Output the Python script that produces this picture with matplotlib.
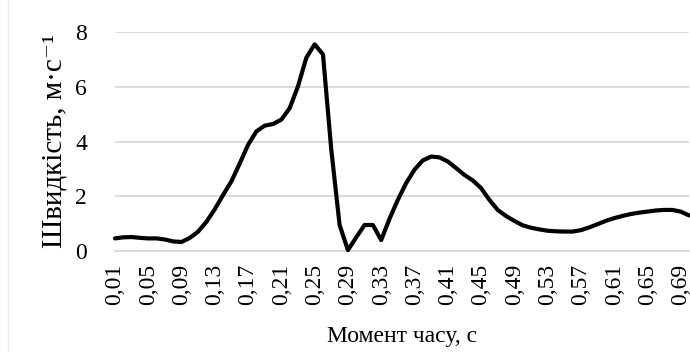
"""Speed vs time moment chart (Excel-like style)."""

import matplotlib
matplotlib.use("Agg")
import matplotlib.pyplot as plt
from matplotlib.lines import Line2D

# time moments 0,01 ... 0,70 s
time_s = [round(0.01 * k, 2) for k in range(1, 71)]

speed = [
    0.46, 0.50, 0.51, 0.48, 0.46, 0.46, 0.42, 0.35, 0.33, 0.48,
    0.71, 1.07, 1.53, 2.05, 2.55, 3.20, 3.88, 4.37, 4.58, 4.64,
    4.80, 5.22, 6.02, 7.06, 7.55, 7.18, 3.70, 0.95, 0.03, 0.50,
    0.95, 0.95, 0.40, 1.18, 1.87, 2.48, 2.97, 3.31, 3.45, 3.42,
    3.27, 3.03, 2.78, 2.58, 2.30, 1.87, 1.50, 1.28, 1.10, 0.94,
    0.85, 0.79, 0.74, 0.72, 0.71, 0.71, 0.76, 0.86, 0.98, 1.10,
    1.20, 1.28, 1.35, 1.40, 1.44, 1.48, 1.50, 1.50, 1.44, 1.30,
]

tick_values = time_s[::4]
tick_labels = [f"{v:.2f}".replace(".", ",") for v in tick_values]
y_ticks = [0, 2, 4, 6, 8]

plt.rcParams["font.family"] = ["Liberation Serif", "DejaVu Serif"]

fig = plt.figure(figsize=(6.9, 3.52), dpi=100)
ax = fig.add_axes([115 / 690, 101 / 352, 574 / 690, 219 / 352])

ax.plot(time_s, speed, color="black", linewidth=3.0, solid_joinstyle="round",
        solid_capstyle="round", clip_on=False, zorder=3)

ax.set_xlim(time_s[0], time_s[-1])
ax.set_ylim(0, 8)
ax.set_yticks(y_ticks)
ax.set_xticks(tick_values)
ax.set_xticklabels(tick_labels, rotation=90)
ax.tick_params(axis="both", length=0, labelsize=17, colors="black")
ax.tick_params(axis="y", pad=20)
ax.tick_params(axis="x", pad=9)

ax.grid(axis="y", color="#d9d9d9", linewidth=1.3)
ax.set_axisbelow(True)
for side in ("top", "right", "left"):
    ax.spines[side].set_visible(False)
ax.spines["bottom"].set_color("#d9d9d9")
ax.spines["bottom"].set_linewidth(1.3)

ax.set_xlabel("Момент часу, с", fontsize=17, labelpad=15)
ax.set_ylabel("Швидкість, м·с⁻¹", fontsize=21, labelpad=6)

fig.add_artist(Line2D([7.5 / 690, 7.5 / 690], [0, 1], color="#ececec", linewidth=1))

fig.savefig("out.png", dpi=100)
